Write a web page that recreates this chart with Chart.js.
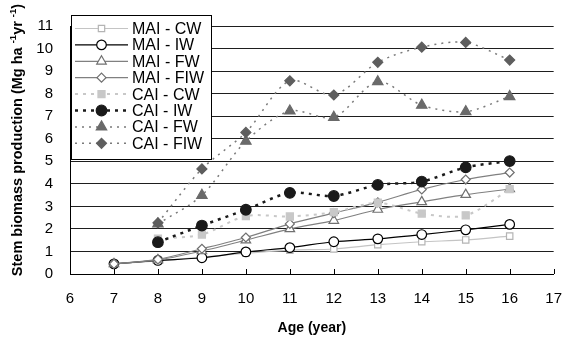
<!DOCTYPE html>
<html>
<head>
<meta charset="utf-8">
<script src="https://cdn.jsdelivr.net/npm/chart.js@4"></script>
<style>
  html, body { margin: 0; padding: 0; background: #fff; }
  #wrap { width: 570px; height: 340px; }
</style>
</head>
<body>
<div id="wrap"><canvas id="myChart" width="570" height="340"></canvas></div>
<script>
// ages on the x axis
const ages = [7, 8, 9, 10, 11, 12, 13, 14, 15, 16]

// mean annual increment
const maiCW = [0.45, 0.58, 0.75, 0.92, 1.06, 1.11, 1.30, 1.43, 1.51, 1.68]
const maiIW = [0.45, 0.60, 0.72, 0.98, 1.17, 1.43, 1.56, 1.75, 1.96, 2.20]
const maiFW = [0.45, 0.62, 1.02, 1.50, 2.00, 2.37, 2.86, 3.20, 3.52, 3.77]
const maiFIW = [0.45, 0.65, 1.12, 1.62, 2.22, 2.70, 3.18, 3.75, 4.19, 4.50]

// current annual increment (starts at age 8)
const caiAges = [8, 9, 10, 11, 12, 13, 14, 15, 16]
const caiCW = [1.57, 1.75, 2.57, 2.55, 2.74, 3.16, 2.68, 2.60, 3.76]
const caiIW = [1.41, 2.15, 2.85, 3.60, 3.46, 3.95, 4.10, 4.73, 5.01]
const caiFW = [2.22, 3.49, 5.89, 7.23, 6.95, 8.53, 7.49, 7.20, 7.87]
const caiFIW = [2.27, 4.66, 6.28, 8.57, 7.94, 9.39, 10.06, 10.27, 9.49]

const yTicks = [0, 1, 2, 3, 4, 5, 6, 7, 8, 9, 10, 11]
const xTicks = [6, 7, 8, 9, 10, 11, 12, 13, 14, 15, 16, 17]

const FONT = "'Liberation Sans', Arial, sans-serif"

const toXY = (xs, ys) => ys.map((v, i) => ({ x: xs[i], y: v }))

const series = [
  { label: 'MAI - CW', data: toXY(ages, maiCW), line: '#c4c4c4', point: '#b4b4b4', fill: '#fff', style: 'rect', r: 4.5, dash: [], bw: 1.2 },
  { label: 'MAI - IW', data: toXY(ages, maiIW), line: '#000', point: '#000', fill: '#fff', style: 'circle', r: 4.8, dash: [], bw: 1.2 },
  { label: 'MAI - FW', data: toXY(ages, maiFW), line: '#808080', point: '#707070', fill: '#fff', style: 'triangle', r: 5.5, dash: [], bw: 1.2 },
  { label: 'MAI - FIW', data: toXY(ages, maiFIW), line: '#808080', point: '#707070', fill: '#fff', style: 'rectRot', r: 4.5, dash: [], bw: 1.2 },
  { label: 'CAI - CW', data: toXY(caiAges, caiCW), line: '#c8c8c8', point: '#c8c8c8', fill: '#c8c8c8', style: 'rect', r: 5, dash: [3, 5], bw: 2 },
  { label: 'CAI - IW', data: toXY(caiAges, caiIW), line: '#1a1a1a', point: '#1a1a1a', fill: '#1a1a1a', style: 'circle', r: 5.3, dash: [3, 5], bw: 2.5 },
  { label: 'CAI - FW', data: toXY(caiAges, caiFW), line: '#7a7a7a', point: '#6a6a6a', fill: '#6a6a6a', style: 'triangle', r: 6, dash: [2, 5], bw: 1.5 },
  { label: 'CAI - FIW', data: toXY(caiAges, caiFIW), line: '#7a7a7a', point: '#5e5e5e', fill: '#5e5e5e', style: 'rectRot', r: 5, dash: [2, 5], bw: 1.5 }
]

const datasets = series.map((s, id) => ({
  label: s.label,
  data: s.data,
  borderColor: s.line,
  borderWidth: s.bw,
  borderDash: s.dash,
  tension: 0.3,
  pointStyle: s.style,
  pointRadius: s.r,
  pointBorderColor: s.point,
  pointBackgroundColor: s.fill,
  pointBorderWidth: 1.2,
  order: series.length - id
}))

// legend box drawn inside the plot, like the original
const boxLegend = {
  id: 'boxLegend',
  afterDraw(chart) {
    const ctx = chart.ctx
    const x0 = 71, y0 = 15, w = 140, h = 144
    ctx.save()
    ctx.fillStyle = '#fff'
    ctx.fillRect(x0, y0, w, h)
    ctx.strokeStyle = '#000'
    ctx.lineWidth = 1
    ctx.strokeRect(x0 + 0.5, y0 + 0.5, w, h)
    ctx.font = '16px ' + FONT
    ctx.textBaseline = 'middle'
    series.forEach((s, id) => {
      const y = 28.5 + id * 16.4
      ctx.beginPath()
      ctx.setLineDash(s.dash)
      ctx.strokeStyle = s.line
      ctx.lineWidth = s.bw
      ctx.moveTo(75, y)
      ctx.lineTo(128, y)
      ctx.stroke()
      ctx.setLineDash([])
      ctx.fillStyle = s.fill
      ctx.strokeStyle = s.point
      ctx.lineWidth = 1.2
      Chart.helpers.drawPoint(ctx, { pointStyle: s.style, radius: s.r, rotation: 0, borderWidth: 1.2 }, 101.5, y)
      ctx.fillStyle = '#000'
      ctx.fillText(s.label, 132, y + 1)
    })
    ctx.restore()
  }
}

// axis titles (y title has superscripts) and inward tick marks on x
const axisTitles = {
  id: 'axisTitles',
  afterDraw(chart) {
    const ctx = chart.ctx
    const area = chart.chartArea
    const xs = chart.scales.x
    ctx.save()
    ctx.strokeStyle = '#000'
    ctx.lineWidth = 1
    xTicks.forEach(t => {
      const px = Math.round(xs.getPixelForValue(t)) + 0.5
      ctx.beginPath()
      ctx.moveTo(px, area.bottom)
      ctx.lineTo(px, area.bottom - 5)
      ctx.stroke()
    })

    ctx.fillStyle = '#000'
    ctx.textBaseline = 'middle'
    ctx.textAlign = 'center'
    ctx.font = 'bold 14px ' + FONT
    ctx.fillText('Age (year)', (area.left + area.right) / 2, 328)

    const parts = [
      ['Stem biomass production (Mg ha ', 14.5, 0],
      ['-1', 9.5, -5],
      ['yr ', 14.5, 0],
      ['-1', 9.5, -5],
      [')', 14.5, 0]
    ]
    let total = 0
    parts.forEach(p => {
      ctx.font = 'bold ' + p[1] + 'px ' + FONT
      total += ctx.measureText(p[0]).width
    })
    ctx.translate(18, 140)
    ctx.rotate(-Math.PI / 2)
    ctx.textAlign = 'left'
    let cx = -total / 2
    parts.forEach(p => {
      ctx.font = 'bold ' + p[1] + 'px ' + FONT
      ctx.fillText(p[0], cx, p[2])
      cx += ctx.measureText(p[0]).width
    })
    ctx.restore()
  }
}

const ctx = document.getElementById('myChart')

const myChart = new Chart(ctx, {
  type: 'line',
  data: { datasets: datasets },
  options: {
    responsive: false,
    animation: false,
    layout: { padding: { left: 0, right: 11, top: 14, bottom: 0 } },
    plugins: {
      legend: { display: false },
      tooltip: { enabled: false }
    },
    scales: {
      x: {
        type: 'linear',
        min: 6,
        max: 17,
        afterBuildTicks: (scale) => { scale.ticks = xTicks.map(v => ({ value: v })) },
        afterFit: (scale) => { scale.height = 66 },
        grid: { display: false },
        border: { display: true, color: '#000', width: 1 },
        ticks: { color: '#000', font: { family: FONT, size: 15 }, padding: 8, maxRotation: 0 }
      },
      y: {
        min: 0,
        max: 11,
        afterBuildTicks: (scale) => { scale.ticks = yTicks.map(v => ({ value: v })) },
        afterFit: (scale) => { scale.width = 70 },
        grid: { color: '#1e1e1e', lineWidth: 1, drawTicks: false },
        border: { display: true, color: '#000', width: 1 },
        ticks: { color: '#000', font: { family: FONT, size: 15 }, padding: 17 }
      }
    }
  },
  plugins: [boxLegend, axisTitles]
})
</script>
</body>
</html>
